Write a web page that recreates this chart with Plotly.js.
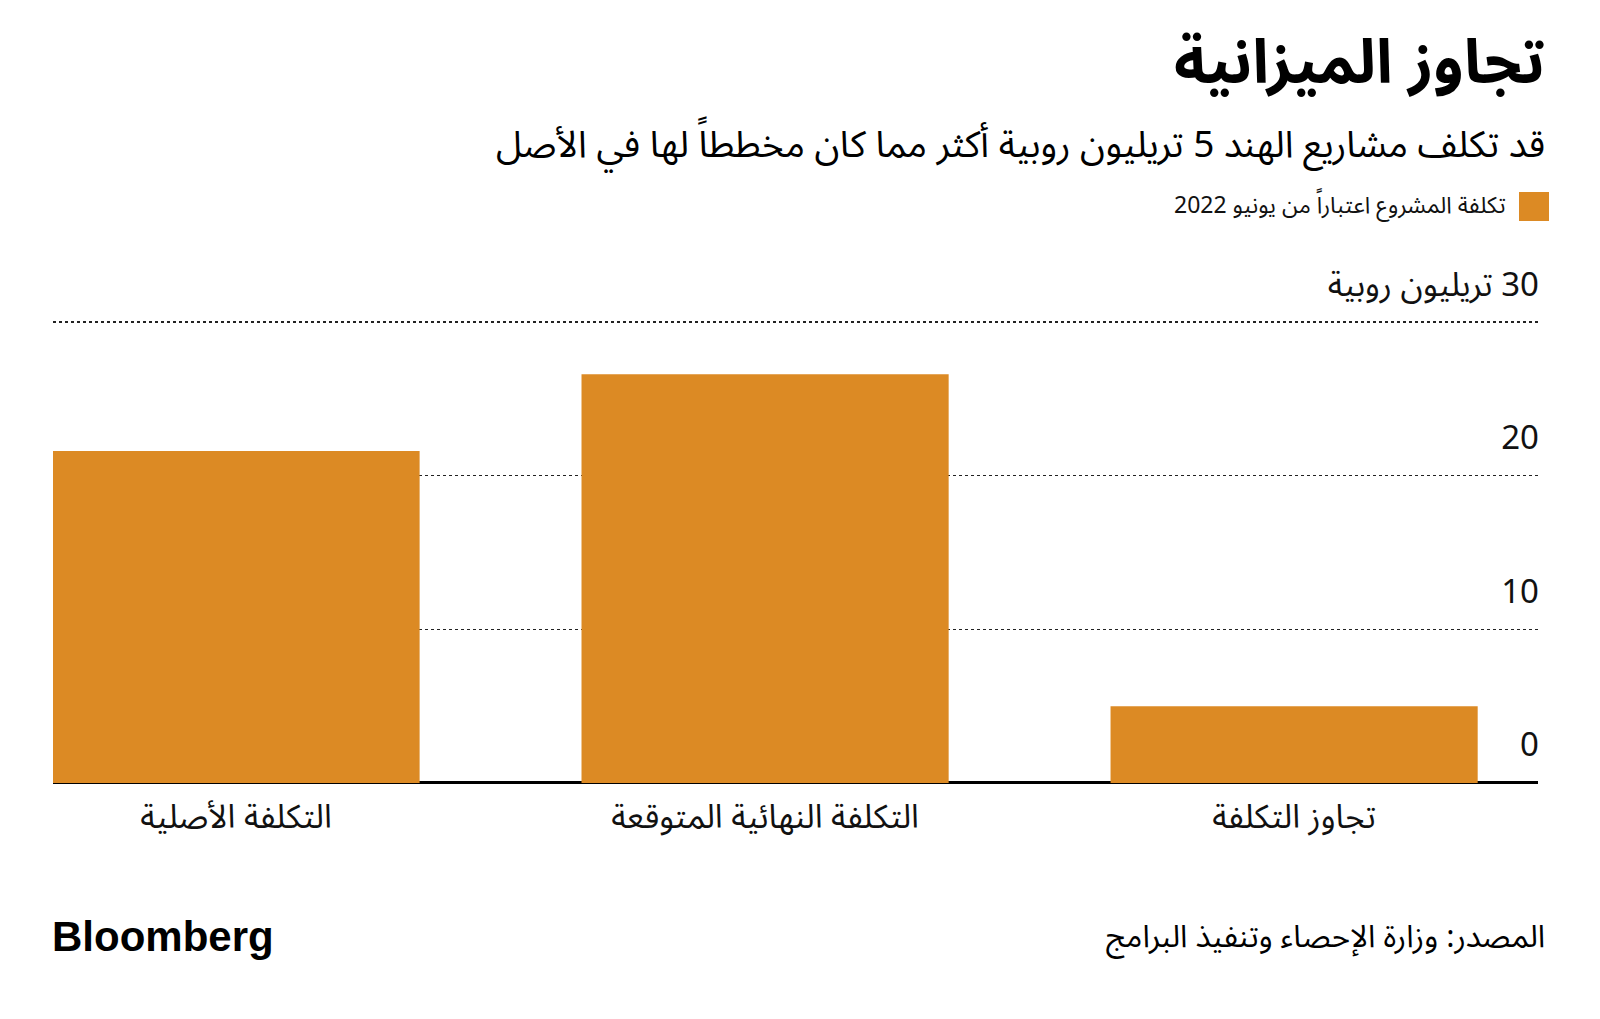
<!DOCTYPE html>
<html>
<head>
<meta charset="utf-8">
<script src="https://cdn.plot.ly/plotly-3.0.1.min.js"></script>
<style>
  html, body { margin: 0; padding: 0; background: #fff; }
  #chart { width: 1600px; height: 1019px; }
</style>
</head>
<body>
<div id="chart"></div>
<script>
// ---- data ----
const categories = ['التكلفة الأصلية', 'التكلفة النهائية المتوقعة', 'تجاوز التكلفة'];
const costValues = [21.6, 26.6, 5.0];
const seriesName = 'تكلفة المشروع اعتباراً من يونيو 2022';
const yTickVals = [0, 10, 20, 30];
const yTickText = ['0', '10', '20', '\u200F30 تريليون روبية'];
const titleText = 'تجاوز الميزانية';
const subtitleText = 'قد تكلف مشاريع الهند 5 تريليون روبية أكثر مما كان مخططاً لها في الأصل';
const sourceText = 'المصدر: وزارة الإحصاء وتنفيذ البرامج';

// ---- layout geometry ----
const W = 1600, H = 1019;
const L = 53, R = 1538, T = 236;
const Y0 = 782.7;                      // pixel row of the zero line
const Y30 = 322;                       // pixel row of the 30 gridline
const pxPerUnit = (Y0 - Y30) / 30;
const yMin = -1.5;
const yMax = 30 + (Y30 - T) / pxPerUnit;
const Bp = Y0 - yMin * pxPerUnit;      // plot bottom pixel
const px = x => (x - L) / (R - L);
const py = y => (Bp - y) / (Bp - T);
const ARFONT = '"Noto Sans Arabic", "DejaVu Sans", "Noto Sans", sans-serif';
const barColor = '#dc8a24';

const trace = {
  type: 'bar',
  x: categories,
  y: costValues,
  name: seriesName,
  marker: { color: barColor, line: { width: 0 } },
  hoverinfo: 'skip',
  showlegend: false
};

const layout = {
  width: W, height: H,
  margin: { l: L, r: W - R, t: T, b: H - Bp },
  paper_bgcolor: '#fff',
  plot_bgcolor: '#fff',
  bargap: 0.306,
  font: { family: ARFONT, color: '#000' },
  xaxis: {
    type: 'category',
    range: [-0.346, 2.461],
    showgrid: false,
    zeroline: false,
    showline: false,
    ticks: '',
    tickfont: { family: ARFONT, size: 33, color: '#111' },
    ticklabelstandoff: -12,
    fixedrange: true
  },
  yaxis: {
    side: 'right',
    range: [yMin, yMax],
    tickvals: yTickVals,
    ticktext: yTickText,
    showgrid: true,
    gridcolor: '#222',
    gridwidth: 1.2,
    griddash: 'dot',
    zeroline: true,
    zerolinecolor: '#000',
    zerolinewidth: 3,
    showline: false,
    ticks: '',
    ticklabelposition: 'inside top',
    tickfont: { family: ARFONT, size: 33, color: '#111' },
    ticklabelstandoff: -4,
    ticklabelshift: -15,
    fixedrange: true
  },
  shapes: [
    { type: 'rect', xref: 'paper', yref: 'paper',
      x0: px(1519), x1: px(1549), y0: py(192), y1: py(221),
      fillcolor: barColor, line: { width: 0 } }
  ],
  annotations: [
    { text: '<b>' + titleText + '</b>', xref: 'paper', yref: 'paper',
      x: px(1547), y: py(64), xanchor: 'right', yanchor: 'middle', showarrow: false,
      font: { family: ARFONT, size: 61, color: '#000' } },
    { text: subtitleText, xref: 'paper', yref: 'paper',
      x: px(1547), y: py(145), xanchor: 'right', yanchor: 'middle', showarrow: false,
      font: { family: ARFONT, size: 37, color: '#000' } },
    { text: seriesName, xref: 'paper', yref: 'paper',
      x: px(1508), y: py(206), xanchor: 'right', yanchor: 'middle', showarrow: false,
      font: { family: ARFONT, size: 23, color: '#111' } },
    { text: sourceText, xref: 'paper', yref: 'paper',
      x: px(1547), y: py(937), xanchor: 'right', yanchor: 'middle', showarrow: false,
      font: { family: ARFONT, size: 31, color: '#000' } },
    { text: '<b>Bloomberg</b>', xref: 'paper', yref: 'paper',
      x: px(50), y: py(936), xanchor: 'left', yanchor: 'middle', showarrow: false,
      font: { family: '"Liberation Sans", Arial, sans-serif', size: 42, color: '#000' } }
  ]
};

Plotly.newPlot('chart', [trace], layout, { displayModeBar: false, staticPlot: true });
</script>
</body>
</html>
